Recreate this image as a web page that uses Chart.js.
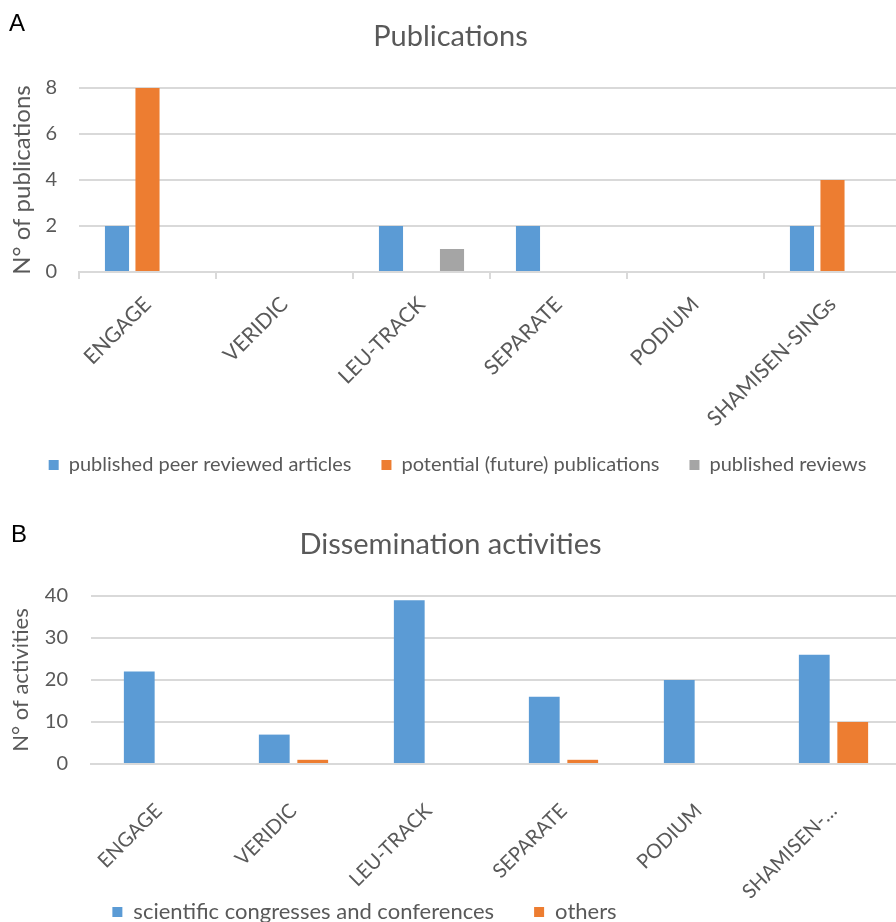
<!DOCTYPE html>
<html>
<head>
<meta charset="utf-8">
<script src="https://cdn.jsdelivr.net/npm/chart.js"></script>
<style>
  html, body { margin: 0; padding: 0; background: #fff; }
  body { width: 896px; height: 922px; overflow: hidden; position: relative; }
  .panel { position: absolute; left: 0; width: 901px; overflow: hidden; }
  .tag { position: absolute; font: 24px "Liberation Sans", Arial, sans-serif; color: #000; z-index: 2; }
</style>
</head>
<body>
<div class="tag" style="left:9px; top:9px">A</div>
<div class="panel" style="top:0; height:490px"><canvas id="pubChart" width="901" height="490"></canvas></div>
<div class="tag" style="left:11px; top:520px">B</div>
<div class="panel" style="top:515px; height:425px"><canvas id="dissChart" width="901" height="425"></canvas></div>

<script>
// Projects (x categories)
const projects = ['ENGAGE', 'VERIDIC', 'LEU-TRACK', 'SEPARATE', 'PODIUM', 'SHAMISEN-SINGs'];
const projectsShort = ['ENGAGE', 'VERIDIC', 'LEU-TRACK', 'SEPARATE', 'PODIUM', 'SHAMISEN-…'];

// Panel A: publications
const peerReviewed = [2, 0, 2, 2, 0, 2];
const futurePubs   = [8, 0, 0, 0, 0, 4];
const reviews      = [0, 0, 1, 0, 0, 0];
const pubTicks     = [0, 2, 4, 6, 8];

// Panel B: dissemination activities
const congresses = [22, 7, 39, 16, 20, 26];
const others     = [0, 1, 0, 1, 0, 10];
const dissTicks  = [0, 10, 20, 30, 40];

const BLUE = '#5B9BD5', ORANGE = '#ED7D31', GREY = '#A5A5A5';
const TEXT = '#595959', GRID = '#D9D9D9';

Chart.defaults.font.family = 'Lato';
Chart.defaults.color = TEXT;

function makeChart(id, opts) {
  // nudge the legend sideways, and let the rotated x labels run past the axis box
  const tweaks = {
    id: 'tweaks',
    afterLayout(chart) {
      chart.legend.left += opts.legendShift;
      chart.legend.right += opts.legendShift;
    },
    beforeDraw(chart) {
      chart.scales.x._computeLabelArea = () => undefined;
    }
  };

  return new Chart(document.getElementById(id), {
    type: 'bar',
    data: { labels: opts.labels, datasets: opts.datasets },
    plugins: [tweaks],
    options: {
      responsive: false,
      animation: false,
      layout: { padding: { left: 0, right: 0, top: 0, bottom: opts.padBottom } },
      datasets: { bar: { categoryPercentage: opts.catPct, barPercentage: opts.barPct } },
      plugins: {
        title: {
          display: true, text: opts.title, color: TEXT,
          font: { size: 29, weight: 'normal' },
          padding: { top: opts.titleTop, bottom: opts.titleBottom }
        },
        legend: {
          position: 'bottom',
          labels: {
            boxWidth: 10, boxHeight: 10, color: TEXT,
            font: { size: opts.legendSize }, padding: opts.legendPad
          }
        },
        tooltip: { enabled: false }
      },
      scales: {
        x: {
          afterFit: s => { s.height = opts.xHeight; },
          grid: opts.xTicks
            ? { drawOnChartArea: false, drawTicks: true, tickLength: 7, color: GRID, lineWidth: 2 }
            : { display: false },
          border: { display: true, color: GRID, width: 2 },
          ticks: {
            autoSkip: false, minRotation: 45, maxRotation: 45,
            font: { size: opts.xSize }, color: TEXT, padding: opts.xPad
          }
        },
        y: {
          min: 0, max: opts.max,
          afterFit: s => { s.width = opts.yWidth; },
          afterBuildTicks: s => { s.ticks = opts.ticks.map(v => ({ value: v })); },
          grid: { color: GRID, lineWidth: 2, drawTicks: false },
          border: { display: false },
          ticks: { font: { size: 20 }, color: TEXT, padding: opts.yPad },
          title: {
            display: true, text: opts.yTitle, color: TEXT,
            font: { size: opts.yTitleSize }, padding: { top: 8, bottom: 0 }
          }
        }
      }
    }
  });
}

makeChart('pubChart', {
  labels: projects,
  datasets: [
    { label: 'published peer reviewed articles', data: peerReviewed, backgroundColor: BLUE },
    { label: 'potential (future) publications', data: futurePubs, backgroundColor: ORANGE },
    { label: 'published reviews', data: reviews, backgroundColor: GREY }
  ],
  title: 'Publications', titleTop: 19.6, titleBottom: 33.6,
  yTitle: 'N° of publications', yTitleSize: 24, max: 8, ticks: pubTicks,
  yWidth: 79, yPad: 22, xHeight: 153, xPad: 13, xSize: 21, xTicks: true,
  catPct: 0.668, barPct: 0.79,
  legendSize: 20, legendPad: 30, padBottom: 5, legendShift: 7
});

makeChart('dissChart', {
  labels: projectsShort,
  datasets: [
    { label: 'scientific congresses and conferences', data: congresses, backgroundColor: BLUE },
    { label: 'others', data: others, backgroundColor: ORANGE }
  ],
  title: 'Dissemination activities', titleTop: 12.6, titleBottom: 33.6,
  yTitle: 'N° of activities', yTitleSize: 22, max: 40, ticks: dissTicks,
  yWidth: 91, yPad: 23, xHeight: 97, xPad: 27, xSize: 20, xTicks: false,
  catPct: 0.57, barPct: 0.8,
  legendSize: 22, legendPad: 40, padBottom: 7, legendShift: -86
});
</script>
</body>
</html>
